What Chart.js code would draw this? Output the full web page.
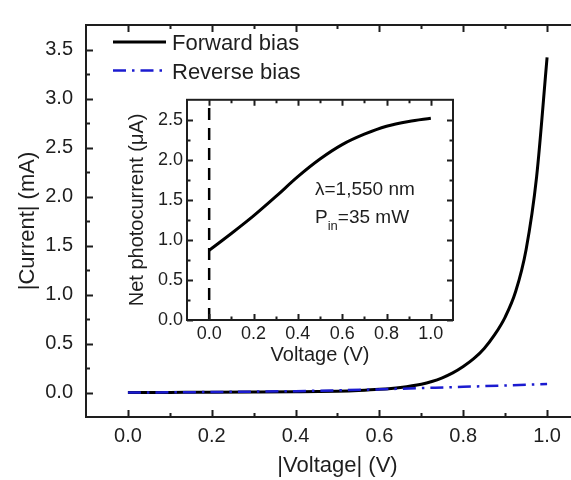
<!DOCTYPE html>
<html lang="en">
<head>
<meta charset="UTF-8">
<title>I-V curve with photocurrent inset</title>
<script src="https://cdn.jsdelivr.net/npm/chart.js"></script>
<style>
  html, body { margin: 0; padding: 0; background: #fff; overflow: hidden; }
  #wrap { position: relative; width: 571px; height: 480px; overflow: hidden; }
  #main { position: absolute; left: 0; top: 0; }
  #inset { position: absolute; left: 120px; top: 85px; }
</style>
</head>
<body>
<div id="wrap">
  <canvas id="main" width="600" height="480"></canvas>
  <canvas id="inset" width="345" height="285"></canvas>
</div>
<script>
// main plot: |current| (mA) vs |voltage| (V)
const fwdV = [0, 0.1, 0.2, 0.3, 0.4, 0.5, 0.55, 0.6, 0.65, 0.7, 0.725, 0.75, 0.775, 0.8, 0.825, 0.85, 0.875, 0.9, 0.925, 0.95, 0.975, 1.0];
const fwdI = [0, 0.001, 0.002, 0.004, 0.007, 0.013, 0.02, 0.032, 0.052, 0.085, 0.112, 0.15, 0.2, 0.265, 0.345, 0.45, 0.59, 0.77, 1.03, 1.46, 2.2, 3.42];
const revV = [0, 0.1, 0.2, 0.3, 0.4, 0.5, 0.6, 0.7, 0.8, 0.9, 1.0];
const revI = [0, 0.002, 0.005, 0.009, 0.014, 0.022, 0.032, 0.045, 0.058, 0.072, 0.087];
const xTicks = [0, 0.2, 0.4, 0.6, 0.8, 1.0];
const xMinor = [0.1, 0.3, 0.5, 0.7, 0.9];
const yTicks = [0, 0.5, 1.0, 1.5, 2.0, 2.5, 3.0, 3.5];
const yMinor = [0.25, 0.75, 1.25, 1.75, 2.25, 2.75, 3.25];

// inset: net photocurrent (uA) vs voltage (V)
const insetV = [0, 0.1, 0.2, 0.3, 0.4, 0.5, 0.6, 0.7, 0.8, 0.9, 1.0];
const insetI = [0.87, 1.08, 1.3, 1.54, 1.79, 2.01, 2.19, 2.32, 2.42, 2.48, 2.52];
const insetXTicks = [0, 0.2, 0.4, 0.6, 0.8, 1.0];
const insetXMinor = [0.1, 0.3, 0.5, 0.7, 0.9];
const insetYTicks = [0, 0.5, 1.0, 1.5, 2.0, 2.5];
const insetYMinor = [0.25, 0.75, 1.25, 1.75, 2.25];
const markV = [0];

const FONT = '"Liberation Sans", Arial, sans-serif';
const INK = '#1e1e1e';

// box + inward ticks on all four sides (Origin style)
const framePlugin = {
  id: 'frame',
  afterDatasetsDraw(chart, args, o) {
    const { ctx, chartArea: a, scales: { x, y } } = chart;
    ctx.save();
    ctx.strokeStyle = INK;
    ctx.lineWidth = o.width;
    ctx.beginPath();
    o.xMajor.concat(o.xMinor).forEach((v, i) => {
      const len = i < o.xMajor.length ? o.major : o.minor;
      const px = Math.round(x.getPixelForValue(v)) + 0.5;
      ctx.moveTo(px, a.bottom); ctx.lineTo(px, a.bottom - len);
      ctx.moveTo(px, a.top); ctx.lineTo(px, a.top + len);
    });
    o.yMajor.concat(o.yMinor).forEach((v, i) => {
      const len = i < o.yMajor.length ? o.major : o.minor;
      const py = Math.round(y.getPixelForValue(v)) + 0.5;
      ctx.moveTo(a.left, py); ctx.lineTo(a.left + len, py);
      ctx.moveTo(a.right, py); ctx.lineTo(a.right - len, py);
    });
    ctx.stroke();
    ctx.strokeRect(a.left, a.top, a.right - a.left, a.bottom - a.top);
    ctx.restore();
  }
};

const keyPlugin = {
  id: 'curveKey',
  afterDraw(chart) {
    const ctx = chart.ctx;
    chart.data.datasets.forEach((ds, i) => {
      const yy = 42 + i * 28.5;
      ctx.save();
      ctx.strokeStyle = ds.borderColor;
      ctx.lineWidth = ds.borderWidth;
      ctx.setLineDash(ds.borderDash || []);
      ctx.beginPath();
      ctx.moveTo(113, yy); ctx.lineTo(166, yy);
      ctx.stroke();
      ctx.setLineDash([]);
      ctx.fillStyle = INK;
      ctx.font = '22px ' + FONT;
      ctx.textBaseline = 'alphabetic';
      ctx.fillText(ds.label, 172, yy + 8);
      ctx.restore();
    });
  }
};

const noteP = {
  id: 'conditions',
  afterDraw(chart) {
    const ctx = chart.ctx;
    ctx.save();
    ctx.fillStyle = INK;
    ctx.font = '19px ' + FONT;
    ctx.fillText('\u03bb=1,550 nm', 195, 110);
    ctx.fillText('P', 195, 138);
    const w = ctx.measureText('P').width;
    ctx.font = '13px ' + FONT;
    ctx.fillText('in', 195 + w, 145);
    const w2 = ctx.measureText('in').width;
    ctx.font = '19px ' + FONT;
    ctx.fillText('=35 mW', 195 + w + w2, 138);
    ctx.restore();
  }
};

function axis(min, max, ticks, size, title, tPad, lPad, fit, horiz) {
  return {
    type: 'linear',
    min: min, max: max,
    grid: { display: false, drawTicks: false },
    border: { display: false },
    afterBuildTicks: s => { s.ticks = ticks.map(v => ({ value: v })); },
    afterFit: s => { if (horiz) s.height = fit; else s.width = fit; },
    ticks: {
      autoSkip: false, maxRotation: 0, padding: lPad,
      color: INK, font: { family: FONT, size: size },
      callback: v => Number(v).toFixed(1)
    },
    title: {
      display: true, text: title, color: INK,
      font: { family: FONT, size: size + 2 },
      padding: tPad
    }
  };
}

const pairs = (xs, ys) => xs.map((v, i) => ({ x: v, y: ys[i] }));

new Chart(document.getElementById('main'), {
  type: 'line',
  data: {
    datasets: [{
      label: 'Forward bias',
      data: pairs(fwdV, fwdI),
      borderColor: '#000',
      borderWidth: 3,
      pointRadius: 0,
      cubicInterpolationMode: 'monotone',
      order: 1
    }, {
      label: 'Reverse bias',
      data: pairs(revV, revI),
      borderColor: '#1b1bd0',
      borderWidth: 2.5,
      borderDash: [13, 6, 2.5, 6],
      pointRadius: 0,
      cubicInterpolationMode: 'monotone',
      order: 0
    }]
  },
  options: {
    responsive: false,
    animation: false,
    layout: { padding: { top: 12, right: 11, left: 0, bottom: 0 } },
    plugins: {
      legend: { display: false },
      tooltip: { enabled: false },
      frame: { width: 2, major: 7, minor: 4, xMajor: xTicks, xMinor: xMinor, yMajor: yTicks, yMinor: yMinor }
    },
    scales: {
      x: axis(-0.1, 1.1, xTicks, 20, '|Voltage| (V)', { top: 0, bottom: 1 }, 7, 63, true),
      y: axis(-0.25, 3.75, yTicks, 20, '|Current| (mA)', { top: 15, bottom: 0 }, 13, 86, false)
    }
  },
  plugins: [framePlugin, keyPlugin]
});

new Chart(document.getElementById('inset'), {
  type: 'line',
  data: {
    datasets: [{
      label: 'Net photocurrent',
      data: pairs(insetV, insetI),
      borderColor: '#000',
      borderWidth: 3,
      pointRadius: 0,
      cubicInterpolationMode: 'monotone'
    }, {
      label: 'V = 0',
      data: markV.flatMap(v => [{ x: v, y: 0 }, { x: v, y: 2.75 }]),
      borderColor: '#000',
      borderWidth: 2.5,
      borderDash: [12, 8],
      pointRadius: 0
    }]
  },
  options: {
    responsive: false,
    animation: false,
    layout: { padding: { top: 11, right: 12, left: 0, bottom: 0 } },
    plugins: {
      legend: { display: false },
      tooltip: { enabled: false },
      frame: { width: 2, major: 6, minor: 3.5, xMajor: insetXTicks, xMinor: insetXMinor, yMajor: insetYTicks, yMinor: insetYMinor }
    },
    scales: {
      x: axis(-0.1, 1.1, insetXTicks, 18, 'Voltage (V)', { top: 0, bottom: 3 }, 3, 50, true),
      y: axis(0, 2.75, insetYTicks, 18, 'Net photocurrent (\u03bcA)', { top: 5, bottom: 0 }, 4, 67, false)
    }
  },
  plugins: [framePlugin, noteP]
});
</script>
</body>
</html>
